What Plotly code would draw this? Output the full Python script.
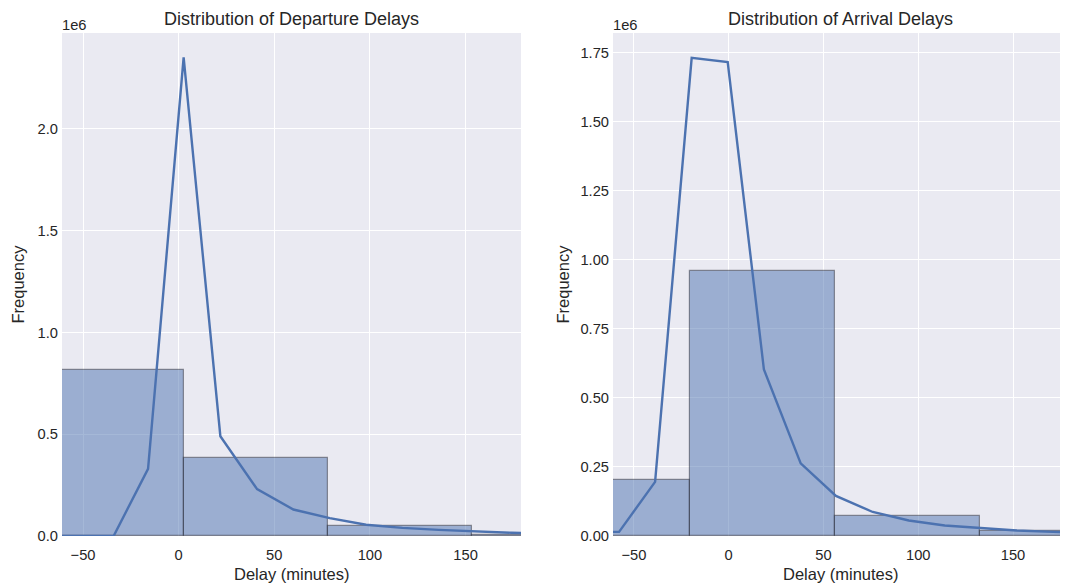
import plotly.graph_objects as go

# ---- data ----
dep_bin_edges = [-72.8, 2.6, 78.0, 153.4, 228.8]
dep_counts = [815000, 382000, 49000, 4000]
dep_kde_x = [-72, -53, -34, -16, 2.6, 21.8, 41, 60, 79, 98, 117, 136, 155, 174, 193]
dep_kde_y = [0, 0, 0, 330000, 2350000, 490000, 230000, 130000, 88000, 55000, 40000, 30000, 22000, 16000, 12000]

arr_bin_edges = [-97.0, -20.6, 56.0, 132.5, 209.0]
arr_counts = [203000, 960000, 72000, 18000]
arr_kde_x = [-77, -57.8, -38.8, -19.5, -0.5, 18.6, 38, 56.6, 76, 95, 114, 133, 152, 171, 190]
arr_kde_y = [14000, 15000, 196000, 1732000, 1717000, 603000, 263000, 145000, 87000, 56000, 38000, 28000, 20000, 15000, 11000]

dep_yticks = [0, 500000, 1000000, 1500000, 2000000]
dep_yticktext = ["0.0", "0.5", "1.0", "1.5", "2.0"]
arr_yticks = [0, 250000, 500000, 750000, 1000000, 1250000, 1500000, 1750000]
arr_yticktext = ["0.00", "0.25", "0.50", "0.75", "1.00", "1.25", "1.50", "1.75"]
xticks = [-50, 0, 50, 100, 150]
xticktext = ["\u221250", "0", "50", "100", "150"]

titles = ["Distribution of Departure Delays", "Distribution of Arrival Delays"]
x_label = "Delay (minutes)"
y_label = "Frequency"

BLUE = "#4C72B0"
FONT = "Liberation Sans, Arial, sans-serif"
TXT = "#262626"
TICK = 14.7
LAB = 16.5
TTL = 18

fig = go.Figure()

def add_panel(edges, counts, kx, ky, xa, ya):
    centers = [(edges[i] + edges[i + 1]) / 2 for i in range(len(counts))]
    widths = [edges[i + 1] - edges[i] for i in range(len(counts))]
    fig.add_trace(go.Bar(
        x=centers, y=counts, width=widths,
        marker=dict(color="rgba(76,114,176,0.5)",
                    line=dict(color="rgba(30,30,40,0.45)", width=1.2)),
        xaxis=xa, yaxis=ya, showlegend=False, hoverinfo="skip"))
    fig.add_trace(go.Scatter(
        x=kx, y=ky, mode="lines", line=dict(color=BLUE, width=2.4),
        xaxis=xa, yaxis=ya, showlegend=False))

add_panel(dep_bin_edges, dep_counts, dep_kde_x, dep_kde_y, "x", "y")
add_panel(arr_bin_edges, arr_counts, arr_kde_x, arr_kde_y, "x2", "y2")

# page has an 8px body margin; compensate
OFF = 8
W, H = 1068 - OFF, 585 - OFF
L, R, T, B = 62 - OFF, 0, 33 - OFF, 49
pw = W - L - R
d1 = [0, (521 - 62) / pw]
d2 = [(613 - 62) / pw, 1.0]

common_x = dict(range=[-61, 179], tickvals=xticks, ticktext=xticktext,
                showgrid=True, gridcolor="white", gridwidth=1.3, zeroline=False,
                showline=False, ticks="", ticklabelstandoff=8, automargin=False,
                tickfont=dict(size=TICK, color=TXT, family=FONT))
common_y = dict(showgrid=True, gridcolor="white", gridwidth=1.3, zeroline=False,
                showline=False, ticks="", ticklabelstandoff=3, automargin=False,
                tickfont=dict(size=TICK, color=TXT, family=FONT))

fig.update_layout(
    width=W, height=H,
    margin=dict(l=L, r=R, t=T, b=B),
    paper_bgcolor="white", plot_bgcolor="#EAEAF2",
    bargap=0,
    xaxis=dict(domain=d1, anchor="y", **common_x),
    yaxis=dict(domain=[0, 1], anchor="x", range=[0, 2470000], tickvals=dep_yticks, ticktext=dep_yticktext, **common_y),
    xaxis2=dict(domain=d2, anchor="y2", **common_x),
    yaxis2=dict(domain=[0, 1], anchor="x2", range=[0, 1822000], tickvals=arr_yticks, ticktext=arr_yticktext, **common_y),
    font=dict(family=FONT, color=TXT),
)

for t, xr, ylshift in [(titles[0], "x domain", -45), (titles[1], "x2 domain", -51)]:
    fig.add_annotation(text=t, xref=xr, yref="paper", x=0.5, y=1.0, yshift=14,
                       xanchor="center", yanchor="middle", showarrow=False,
                       font=dict(size=TTL, color=TXT, family=FONT))
    fig.add_annotation(text="1e6", xref=xr, yref="paper", x=0, y=1.0, yshift=8, xshift=-2,
                       xanchor="left", yanchor="middle", showarrow=False,
                       font=dict(size=TICK, color=TXT, family=FONT))
    fig.add_annotation(text=x_label, xref=xr, yref="paper", x=0.5, y=0, yshift=-38,
                       xanchor="center", yanchor="middle", showarrow=False,
                       font=dict(size=LAB, color=TXT, family=FONT))
    fig.add_annotation(text=y_label, xref=xr, yref="paper", x=0, y=0.5, xshift=ylshift,
                       xanchor="center", yanchor="middle", textangle=-90, showarrow=False,
                       font=dict(size=LAB, color=TXT, family=FONT))

fig.write_html("out.html")
